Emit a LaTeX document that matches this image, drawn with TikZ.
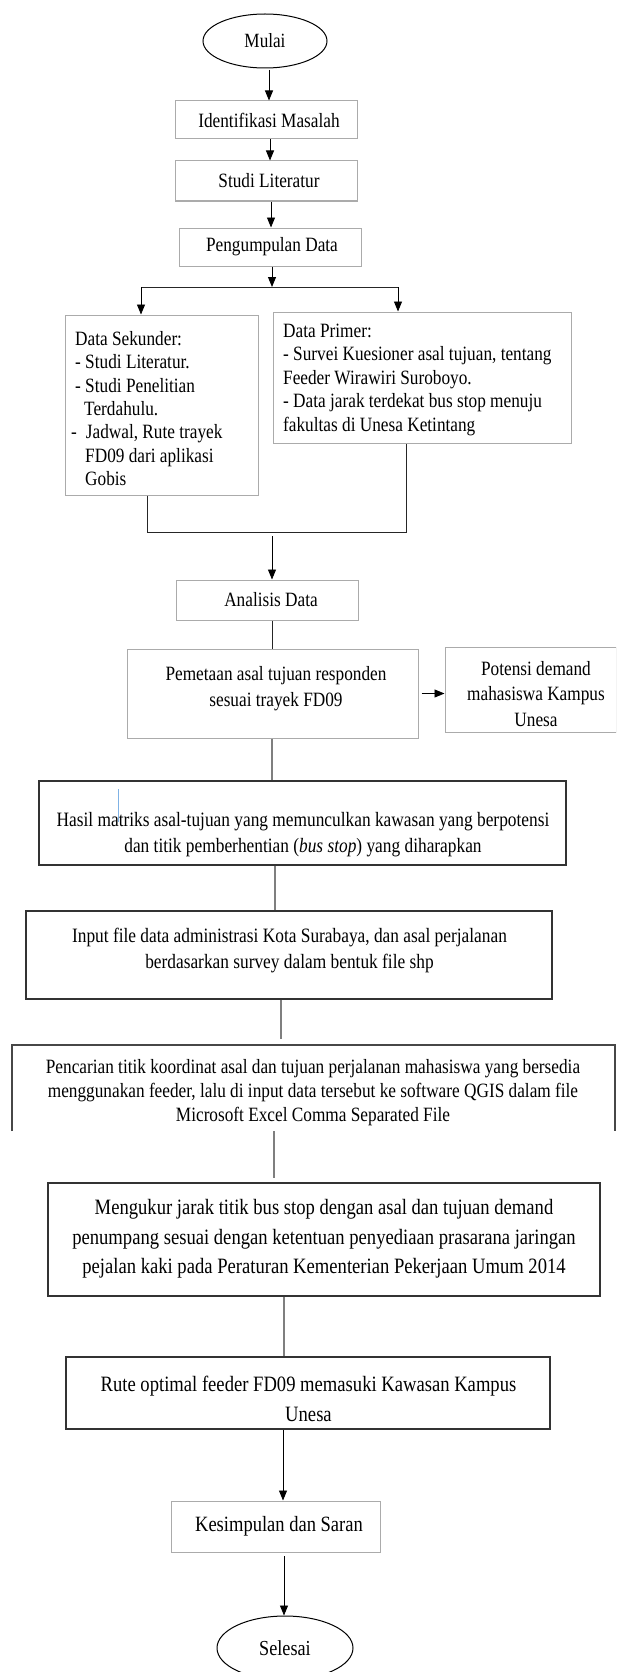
\documentclass[tikz,border=0pt]{standalone}
\usepackage{fontspec}
\setmainfont{Liberation Serif}[FakeStretch=0.85]
\usetikzlibrary{arrows.meta,shapes.geometric}
\definecolor{boxgray}{HTML}{ABABAB}
\definecolor{darkline}{HTML}{333333}
\definecolor{linegray}{HTML}{7F7F7F}
\definecolor{cursorblue}{HTML}{7FB2E5}
\newcommand{\myfs}[2]{\fontsize{#1}{#2}\selectfont}
\begin{document}
\begin{tikzpicture}[x=1pt,y=-1pt,
  lbox/.style={draw=boxgray, line width=1pt, inner sep=0pt, align=center},
  dbox/.style={draw=darkline, line width=1.8pt, inner sep=0pt},
  term/.style={ellipse, draw=black, line width=1pt, inner sep=0pt},
  txt/.style={inner sep=0pt, align=center},
  ltxt/.style={inner sep=0pt, align=left},
  arr/.style={-{Triangle[length=10pt,width=8pt]}, line width=0.9pt, draw=black},
  ln/.style={line width=0.9pt, draw=black!85},
  gln/.style={line width=1.1pt, draw=linegray},
  dline/.style={line width=1.6pt, draw=darkline!90}
]
\useasboundingbox (0,0) rectangle (616,1672);
\clip (0,0) rectangle (616,1672);

% --- top chain
\node[term, minimum width=124pt, minimum height=54pt, font=\myfs{20.2}{22}] (mulai) at (265,41) {Mulai};
\node[lbox, minimum width=182pt, minimum height=38pt, font=\myfs{20.3}{22}] (ident) at (266,120) {\hspace*{6pt}Identifikasi Masalah};
\node[lbox, minimum width=182pt, minimum height=40pt, font=\myfs{20.3}{22}] (studi) at (266,181) {\hspace*{6pt}Studi Literatur};
\node[lbox, minimum width=182pt, minimum height=38pt, font=\myfs{20.3}{22}] (kumpul) at (270,247) {\hspace*{4pt}Pengumpulan Data};

\coordinate (jc) at (272,287);
\coordinate (jl) at (141,287);
\coordinate (jr) at (398,287);

% --- data boxes
\node[lbox, minimum width=193pt, minimum height=180pt] (sek) at (161.5,405) {};
\node[ltxt, font=\myfs{20.3}{23.3}, anchor=west] (sekT) at (75,408.5) {Data Sekunder:\\- Studi Literatur.\\- Studi Penelitian\\\hspace*{9pt}Terdahulu.\\\hspace*{-4pt}-\hspace*{9pt}Jadwal, Rute trayek\\\hspace*{10pt}FD09 dari aplikasi\\\hspace*{10pt}Gobis};
\node[lbox, minimum width=298pt, minimum height=131pt] (pri) at (422,377.5) {};
\node[ltxt, font=\myfs{20.3}{23.5}, anchor=west] (priT) at (283,379.5) {Data Primer:\\- Survei Kuesioner asal tujuan, tentang\\Feeder Wirawiri Suroboyo.\\- Data jarak terdekat bus stop menuju\\fakultas di Unesa Ketintang};

\coordinate (bl) at (147,532);
\coordinate (br) at (406,532);
\coordinate (bc) at (272,536);

% --- analysis
\node[lbox, minimum width=182pt, minimum height=40pt, font=\myfs{20.3}{22}] (anal) at (267,600) {\hspace*{8pt}Analisis Data};
\node[lbox, minimum width=291pt, minimum height=89pt] (pem) at (272.5,693.5) {};
\node[txt, font=\myfs{20.3}{26}] (pemT) at (276,688.5) {Pemetaan asal tujuan responden\\sesuai trayek FD09};
\node[lbox, minimum width=171pt, minimum height=85pt] (pot) at (530.5,689.5) {};
\node[txt, font=\myfs{20.3}{25.5}] (potT) at (536,694) {Potensi demand\\mahasiswa Kampus\\Unesa};

\node[dbox, minimum width=527pt, minimum height=84pt] (hasil) at (302.5,823) {};
\node[txt, font=\myfs{20.4}{26}] (hasilT) at (303,834.5) {Hasil matriks asal-tujuan yang memunculkan kawasan yang berpotensi\\dan titik pemberhentian (\textit{bus stop}) yang diharapkan};
\draw[cursorblue, line width=0.8pt] (118,789) -- (118,822);

\node[dbox, line width=1.5pt, minimum width=526pt, minimum height=88pt] (input) at (289,955) {};
\node[txt, font=\myfs{20.4}{26}] (inputT) at (289.5,950.5) {Input file data administrasi Kota Surabaya, dan asal perjalanan\\berdasarkan survey dalam bentuk file shp};

\node[inner sep=0pt, minimum width=603pt, minimum height=86pt] (cari) at (313.5,1088) {};
\draw[dline] (cari.south west) |- (cari.north east) -- (cari.south east);
\node[txt, font=\myfs{20.3}{24}] (cariT) at (313,1092.5) {Pencarian titik koordinat asal dan tujuan perjalanan mahasiswa yang bersedia\\menggunakan feeder, lalu di input data tersebut ke software QGIS dalam file\\Microsoft Excel Comma Separated File};

\node[dbox, minimum width=552pt, minimum height=113pt] (ukur) at (324,1239.5) {};
\node[txt, font=\myfs{21.9}{29.5}] (ukurT) at (324,1239) {Mengukur jarak titik bus stop dengan asal dan tujuan demand\\penumpang sesuai dengan ketentuan penyediaan prasarana jaringan\\pejalan kaki pada Peraturan Kementerian Pekerjaan Umum 2014};

\node[dbox, minimum width=484pt, minimum height=72pt] (rute) at (308,1393) {};
\node[txt, font=\myfs{21.9}{30}] (ruteT) at (308.5,1398.5) {Rute optimal feeder FD09 memasuki Kawasan Kampus\\Unesa};

\node[lbox, minimum width=209pt, minimum height=51pt, font=\myfs{21.8}{24}] (simp) at (275.5,1526.5) {\hspace*{7pt}Kesimpulan dan Saran};
\node[term, minimum width=136pt, minimum height=64pt, font=\myfs{21.4}{24}] (sel) at (285,1648) {Selesai};

% --- connectors
\coordinate (a1) at (269,70);
\draw[arr] (a1) -- (a1 |- ident.north);
\coordinate (a2) at (270,139);
\draw[arr] (ident.south -| a2) -- (studi.north -| a2);
\coordinate (a3) at (271,201);
\draw[arr] (studi.south -| a3) -- (kumpul.north -| a3);
\draw[arr] (kumpul.south -| jc) -- (jc);
\draw[ln] (jl) -- (jr);
\draw[arr] (jl) -- (jl |- sek.north);
\draw[arr] (jr) -- (jr |- pri.north);
\draw[ln] (sek.south -| bl) -- (bl) -- (br) -- (pri.south -| br);
\draw[arr] (bc) -- (bc |- anal.north);
\draw[ln] (anal.south -| bc) -- (pem.north -| bc);
\draw[arr] ([xshift=3pt]pem.east) -- (pem.east -| pot.west);
\draw[gln] (pem.south -| bc) -- (hasil.north -| bc);
\coordinate (c0) at (275,900);
\draw[gln] (hasil.south -| c0) -- (input.north -| c0);
\coordinate (c1) at (281,1039);
\draw[gln] (input.south -| c1) -- (c1);
\coordinate (c2) at (274,1178);
\draw[gln] (cari.south -| c2) -- (c2);
\coordinate (c3) at (284,1300);
\draw[gln] (ukur.south -| c3) -- (rute.north -| c3);
\coordinate (c4) at (283,1460);
\draw[arr] (rute.south -| c4) -- (simp.north -| c4);
\coordinate (c5) at (284,1556);
\draw[arr] (c5) -- (sel.north -| c5);
\end{tikzpicture}
\end{document}
